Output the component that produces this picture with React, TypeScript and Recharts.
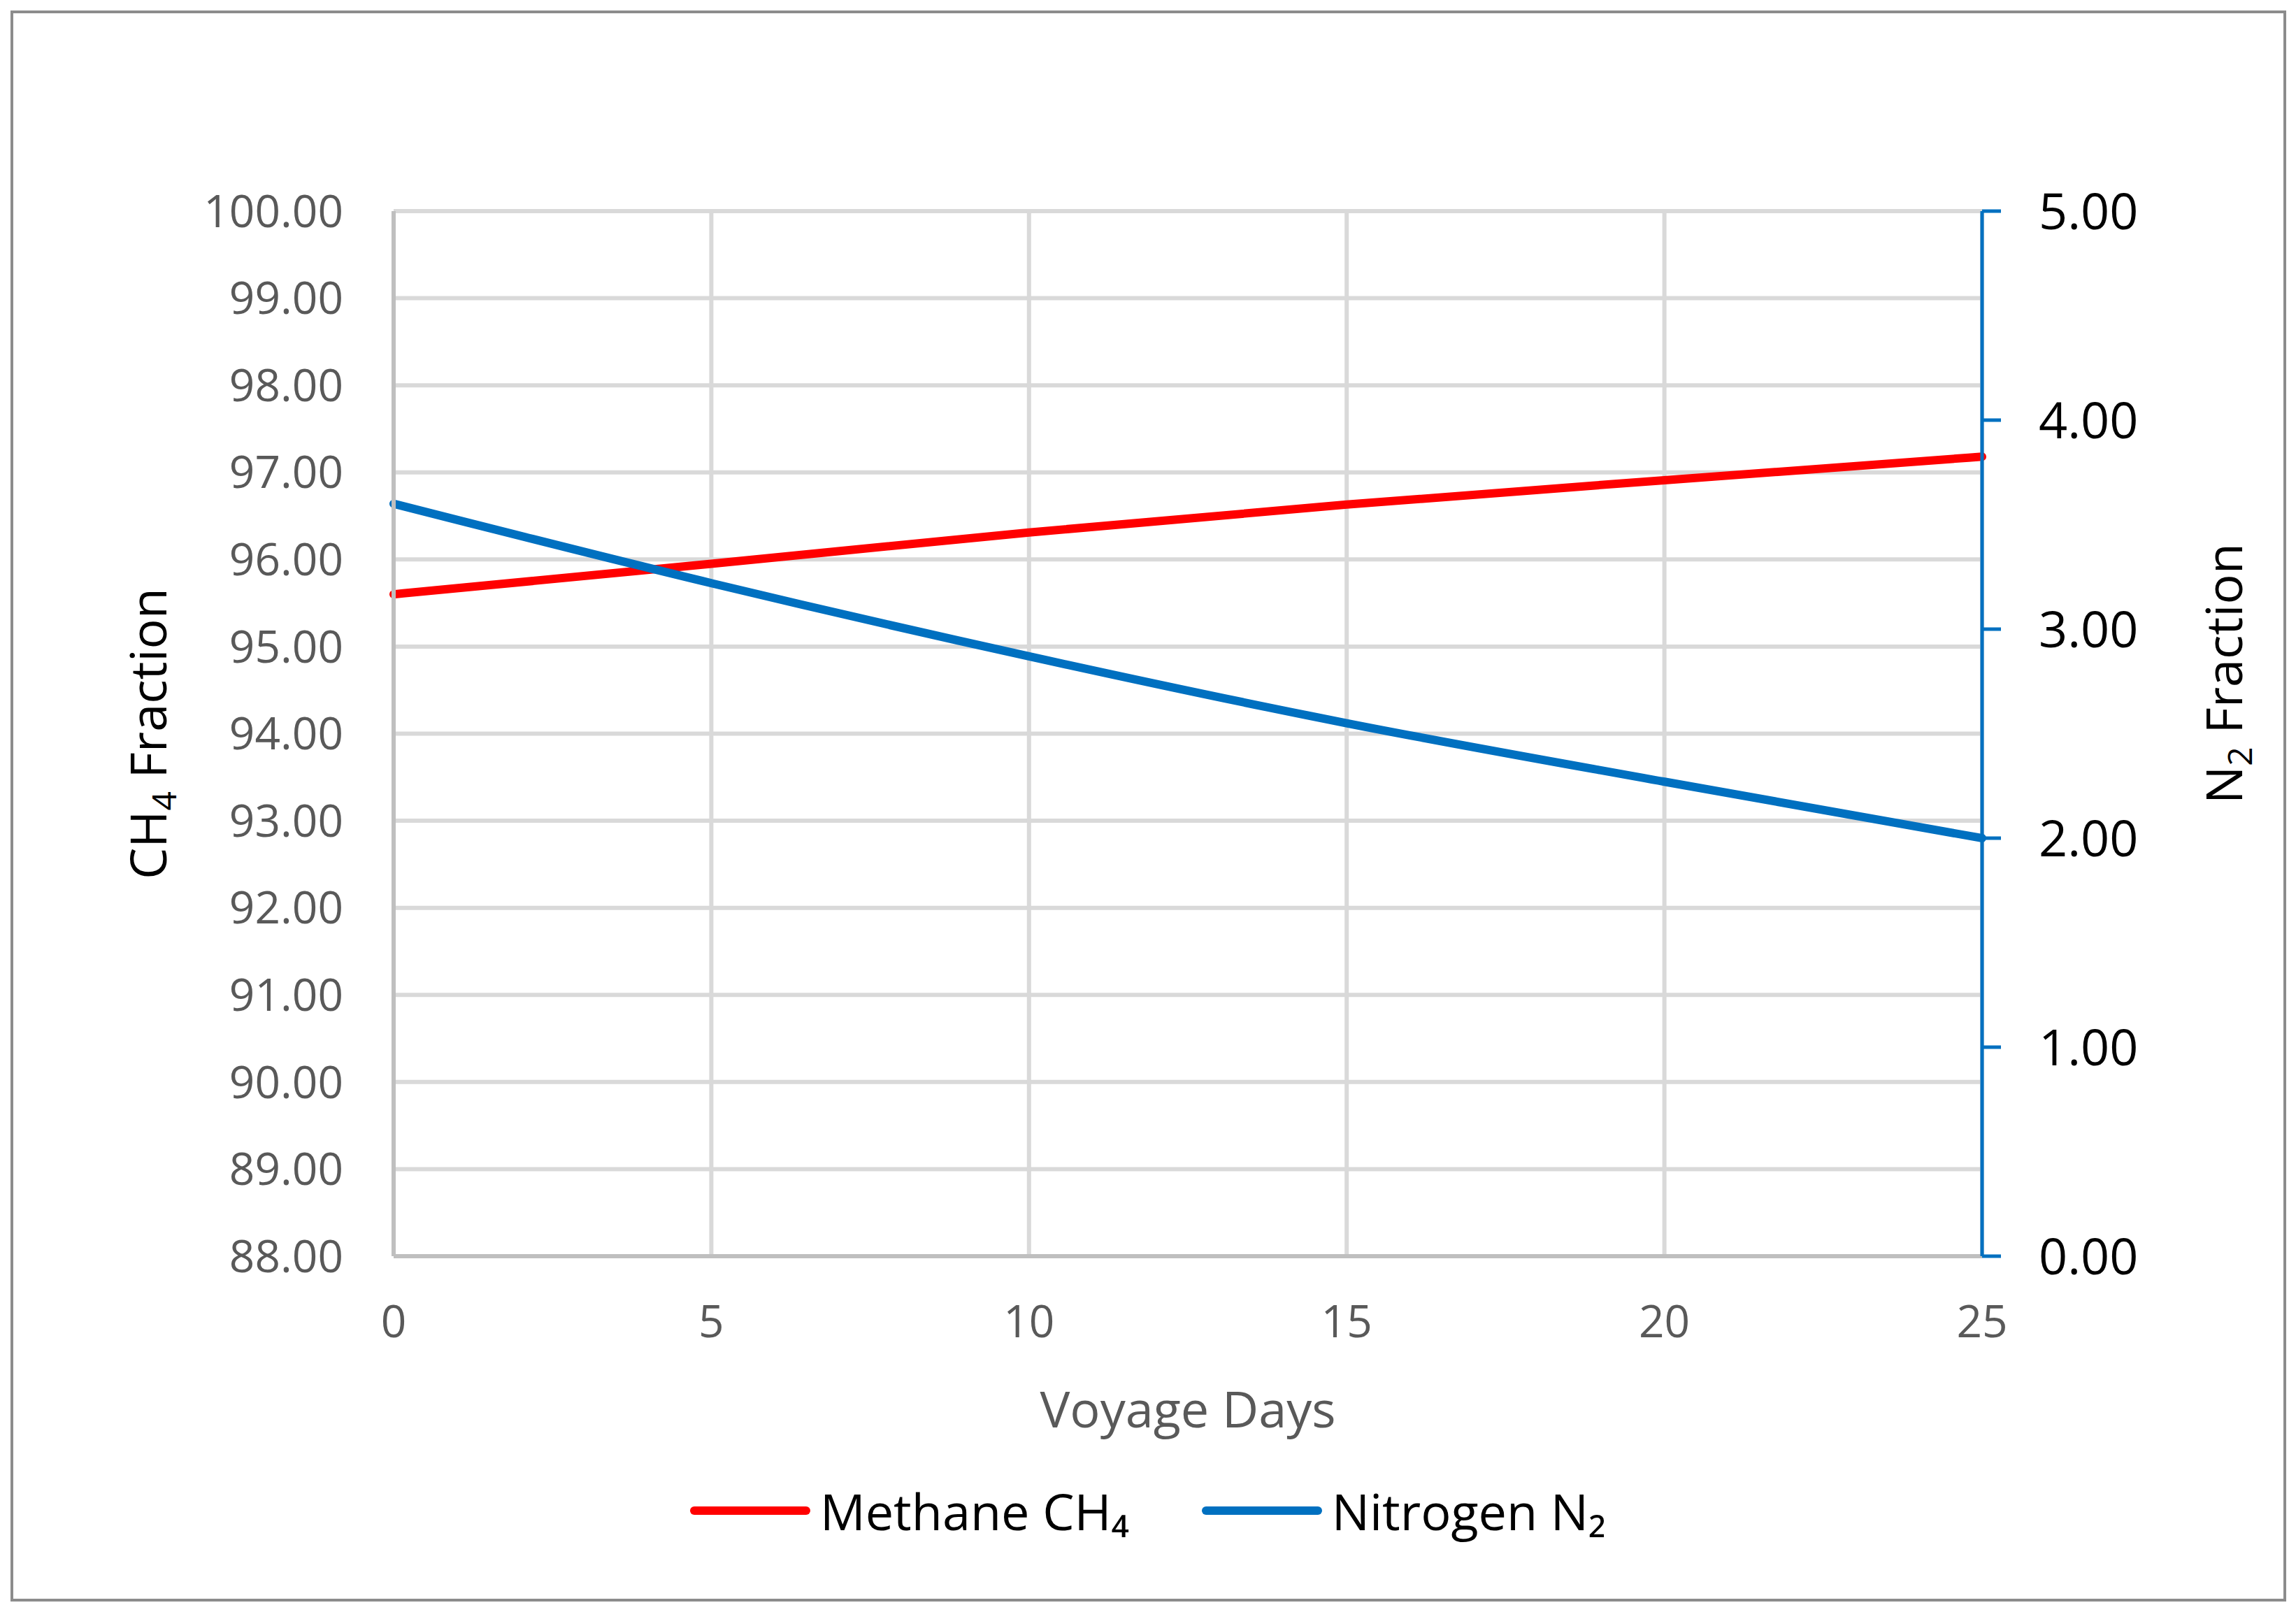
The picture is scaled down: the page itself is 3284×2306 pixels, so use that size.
import { CartesianGrid, Line, LineChart, XAxis, YAxis } from 'recharts'

const days = [0, 5, 10, 15, 20, 25]
const methane = [95.6, 95.95, 96.31, 96.63, 96.91, 97.18]
const nitrogen = [3.6, 3.22, 2.87, 2.55, 2.27, 2.0]

const dayTicks = [0, 5, 10, 15, 20, 25]
const ch4Ticks = [88, 89, 90, 91, 92, 93, 94, 95, 96, 97, 98, 99, 100]
const n2Ticks = [0, 1, 2, 3, 4, 5]

const series = [
  { key: 'ch4', name: 'Methane CH₄', color: '#ff0000', axis: 'left' },
  { key: 'n2', name: 'Nitrogen N₂', color: '#0070c0', axis: 'right' },
]

const data = days.map((day, i) => ({ day, ch4: methane[i], n2: nitrogen[i] }))

const W = 3284
const H = 2306
const FONT = '"Open Sans", sans-serif'

function LeftTitle({ viewBox }: any) {
  const x = viewBox.x + 138
  const y = viewBox.y + viewBox.height / 2
  return (
    <text x={x} y={y} transform={`rotate(-90 ${x} ${y})`} textAnchor="middle" fontSize={72} fill="#000">
      CH<tspan fontSize={48} dy={14}>4</tspan>
      <tspan dy={-14}> Fraction</tspan>
    </text>
  )
}

function RightTitle({ viewBox }: any) {
  const x = viewBox.x + 372
  const y = viewBox.y + viewBox.height / 2 - 86
  return (
    <text x={x} y={y} transform={`rotate(-90 ${x} ${y})`} textAnchor="middle" fontSize={72} fill="#000">
      N<tspan fontSize={48} dy={14}>2</tspan>
      <tspan dy={-14}> Fraction</tspan>
    </text>
  )
}

function BottomTitle({ viewBox }: any) {
  return (
    <text x={viewBox.x + viewBox.width / 2} y={viewBox.y + 245} textAnchor="middle" fontSize={72} fill="#595959">
      Voyage Days
    </text>
  )
}

export default function App() {
  return (
    <div
      style={{
        position: 'absolute',
        left: 0,
        top: 0,
        width: W,
        height: H,
        background: '#fff',
        fontFamily: FONT,
      }}
    >
      <div
        style={{
          position: 'absolute',
          left: 15,
          top: 15,
          width: 3255,
          height: 2276,
          border: '4px solid #8c8c8c',
          boxSizing: 'border-box',
        }}
      />
      <LineChart
        width={W}
        height={H}
        data={data}
        margin={{ top: 302, right: 29, bottom: 359, left: 100 }}
        style={{ fontFamily: FONT }}
      >
        <CartesianGrid yAxisId="left" stroke="#d9d9d9" strokeWidth={6} />
        <XAxis
          dataKey="day"
          type="number"
          domain={[0, 25]}
          ticks={dayTicks}
          height={150}
          axisLine={{ stroke: '#bfbfbf', strokeWidth: 6 }}
          tickLine={false}
          tickSize={0}
          tickMargin={71}
          tick={{ fontSize: 64, fill: '#595959' }}
          label={<BottomTitle />}
        />
        <YAxis
          yAxisId="left"
          orientation="left"
          domain={[88, 100]}
          ticks={ch4Ticks}
          width={463}
          axisLine={{ stroke: '#bfbfbf', strokeWidth: 6 }}
          tickLine={false}
          tickSize={0}
          tickMargin={72}
          tick={{ fontSize: 64, fill: '#595959' }}
          tickFormatter={(v: number) => v.toFixed(2)}
          label={<LeftTitle />}
        />
        <YAxis
          yAxisId="right"
          orientation="right"
          domain={[0, 5]}
          ticks={n2Ticks}
          width={420}
          axisLine={{ stroke: '#0070c0', strokeWidth: 5 }}
          tickLine={{ stroke: '#0070c0', strokeWidth: 5 }}
          tickSize={27}
          tickMargin={54}
          tick={{ fontSize: 72, fill: '#000' }}
          tickFormatter={(v: number) => v.toFixed(2)}
          label={<RightTitle />}
        />
        {series.map((s) => (
          <Line
            key={s.key}
            yAxisId={s.axis}
            dataKey={s.key}
            name={s.name}
            type="monotone"
            stroke={s.color}
            strokeWidth={12}
            strokeLinecap="round"
            dot={false}
            activeDot={false}
            isAnimationActive={false}
          />
        ))}
      </LineChart>
      <div
        style={{
          position: 'absolute',
          left: 0,
          top: 2111,
          width: W,
          height: 100,
          display: 'flex',
          alignItems: 'center',
          justifyContent: 'center',
          gap: 104,
        }}
      >
        {series.map((s) => (
          <div key={s.key} style={{ display: 'flex', alignItems: 'center' }}>
            <span
              style={{
                display: 'inline-block',
                width: 172,
                height: 12,
                borderRadius: 6,
                background: s.color,
                marginRight: 14,
              }}
            />
            <span style={{ fontSize: 72, color: '#000', lineHeight: 1 }}>{s.name}</span>
          </div>
        ))}
      </div>
    </div>
  )
}
